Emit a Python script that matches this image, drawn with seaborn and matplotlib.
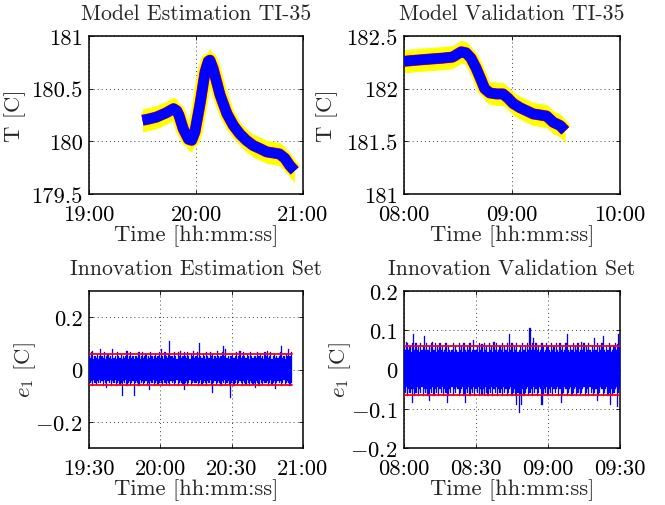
import numpy as np
import pandas as pd
import matplotlib
matplotlib.use("Agg")
import matplotlib.pyplot as plt
import seaborn as sns

# ---------------- data (times in hours of day) ----------------
# Model estimation TI-35: prediction trend
est_time = [19.50, 19.55, 19.63, 19.72, 19.79, 19.82, 19.84, 19.88, 19.93, 19.96,
            19.99, 20.04, 20.085, 20.115, 20.13, 20.16, 20.225, 20.29, 20.35, 20.41,
            20.47, 20.535, 20.60, 20.66, 20.72, 20.78, 20.83, 20.877, 20.922]
est_temp = [180.20, 180.21, 180.23, 180.27, 180.31, 180.29, 180.25, 180.12, 180.02, 180.01,
            180.09, 180.37, 180.66, 180.76, 180.77, 180.69, 180.44, 180.26, 180.15, 180.07,
            180.01, 179.96, 179.93, 179.90, 179.89, 179.88, 179.84, 179.77, 179.72]

# Model validation TI-35
val_time = [8.00, 8.11, 8.23, 8.36, 8.45, 8.53, 8.575, 8.62, 8.67, 8.715,
            8.747, 8.793, 8.855, 8.917, 8.963, 9.01, 9.073, 9.135, 9.197, 9.26,
            9.32, 9.383, 9.446, 9.493]
val_temp = [182.26, 182.27, 182.28, 182.29, 182.30, 182.35, 182.34, 182.29, 182.19, 182.08,
            182.00, 181.96, 181.95, 181.95, 181.91, 181.86, 181.82, 181.79, 181.76, 181.75,
            181.74, 181.68, 181.65, 181.60]
band_half = 0.11   # half width of the yellow confidence band [C]

# Innovations, estimation set: max / min of e1 in each 30 s bin (19:30 .. 20:55:30)
est_hi = [
    .05, .045, .065, .07, .04, .05, .045, .06, .04, .05,
    .08, .05, .045, .065, .04, .05, .06, .045, .05, .04,
    .08, .045, .05, .04, .065, .05, .045, .06, .04, .05,
    .045, .05, .07, .04, .05, .065, .045, .05, .04, .05,
    .05, .045, .065, .04, .05, .065, .045, .05, .06, .04,
    .05, .045, .065, .05, .04, .05, .06, .045, .05, .065,
    .045, .08, .05, .04, .065, .05, .045, .06, .11, .05,
    .05, .045, .065, .05, .04, .065, .05, .07, .045, .05,
    .065, .05, .045, .065, .05, .04, .06, .05, .07, .045,
    .05, .065, .045, .10, .05, .045, .06, .05, .04, .065,
    .05, .045, .065, .05, .06, .04, .05, .045, .07, .05,
    .045, .05, .065, .09, .05, .08, .045, .05, .04, .05,
    .05, .06, .045, .05, .065, .04, .05, .07, .045, .05,
    .065, .05, .045, .06, .05, .04, .065, .05, .045, .05,
    .05, .045, .065, .05, .06, .045, .05, .04, .065, .05,
    .07, .045, .05, .065, .04, .05, .06, .045, .05, .045,
    .05, .065, .09, .045, .05, .04, .06, .05, .08, .05,
    .065, .045]
est_lo = [
    -.04, -.05, -.045, -.062, -.04, -.05, -.06, -.045, -.05, -.04,
    -.05, -.045, -.062, -.04, -.05, -.07, -.045, -.05, -.04, -.062,
    -.045, -.05, -.04, -.062, -.05, -.045, -.06, -.05, -.10, -.045,
    -.05, -.04, -.062, -.05, -.045, -.06, -.05, -.045, -.10, -.05,
    -.045, -.05, -.062, -.04, -.05, -.045, -.06, -.05, -.045, -.062,
    -.05, -.08, -.045, -.05, -.04, -.062, -.05, -.045, -.06, -.05,
    -.045, -.05, -.062, -.04, -.05, -.06, -.045, -.05, -.062, -.045,
    -.05, -.045, -.06, -.05, -.04, -.062, -.05, -.045, -.05, -.06,
    -.08, -.05, -.045, -.062, -.05, -.04, -.06, -.05, -.045, -.05,
    -.05, -.045, -.062, -.05, -.04, -.06, -.05, -.045, -.05, -.062,
    -.045, -.05, -.04, -.062, -.09, -.05, -.045, -.06, -.05, -.045,
    -.05, -.062, -.045, -.05, -.04, -.06, -.05, -.045, -.062, -.11,
    -.05, -.045, -.062, -.05, -.04, -.06, -.05, -.045, -.05, -.062,
    -.045, -.05, -.06, -.04, -.05, -.062, -.045, -.05, -.06, -.05,
    -.07, -.045, -.05, -.062, -.04, -.05, -.06, -.045, -.05, -.05,
    -.045, -.062, -.05, -.04, -.06, -.05, -.045, -.075, -.05, -.045,
    -.05, -.045, -.062, -.05, -.04, -.06, -.05, -.045, -.05, -.062,
    -.05, -.045]
est_start, est_end = 19.5, 19.5 + 85.5 / 60
est_bounds = [0.06, -0.06]

# Innovations, validation set: max / min of e1 in each 30 s bin (08:00 .. 09:30)
val_hi = [
    .06, .05, .07, .068, .05, .06, .045, .068, .09, .05,
    .068, .05, .06, .045, .068, .05, .06, .085, .05, .068,
    .05, .06, .045, .068, .07, .05, .068, .045, .06, .05,
    .068, .05, .06, .045, .05, .068, .045, .06, .05, .045,
    .05, .068, .045, .06, .05, .045, .068, .05, .06, .045,
    .068, .05, .045, .06, .05, .068, .045, .05, .075, .05,
    .05, .06, .045, .068, .05, .065, .045, .068, .05, .06,
    .045, .068, .05, .06, .045, .07, .05, .068, .045, .05,
    .06, .05, .068, .045, .06, .05, .068, .045, .09, .05,
    .068, .045, .06, .05, .068, .045, .05, .06, .045, .068,
    .05, .06, .045, .068, .05, .105, .05, .068, .08, .05,
    .068, .05, .06, .045, .05, .068, .06, .045, .05, .068,
    .06, .05, .045, .068, .05, .06, .045, .068, .05, .045,
    .068, .05, .06, .045, .05, .068, .09, .05, .045, .06,
    .05, .068, .045, .06, .05, .068, .045, .05, .07, .05,
    .068, .045, .06, .05, .068, .05, .045, .06, .05, .08,
    .05, .068, .045, .06, .05, .068, .085, .05, .045, .06,
    .05, .068, .06, .045, .05, .06, .068, .05, .065, .09,
    .06]
val_lo = [
    -.05, -.06, -.045, -.068, -.05, -.06, -.05, -.085, -.05, -.068,
    -.06, -.045, -.068, -.05, -.06, -.045, -.068, -.05, -.06, -.05,
    -.068, -.08, -.05, -.06, -.045, -.068, -.05, -.06, -.045, -.068,
    -.05, -.06, -.045, -.068, -.05, -.06, -.085, -.068, -.05, -.06,
    -.045, -.068, -.05, -.06, -.045, -.05, -.068, -.06, -.05, -.045,
    -.068, -.085, -.05, -.06, -.045, -.068, -.05, -.06, -.045, -.068,
    -.05, -.06, -.045, -.068, -.05, -.065, -.05, -.068, -.045, -.06,
    -.068, -.05, -.06, -.045, -.068, -.05, -.06, -.045, -.068, -.05,
    -.06, -.05, -.068, -.045, -.06, -.05, -.068, -.06, -.05, -.045,
    -.068, -.06, -.05, -.068, -.09, -.06, -.11, -.068, -.09, -.05,
    -.068, -.06, -.05, -.045, -.068, -.06, -.05, -.068, -.045, -.06,
    -.05, -.068, -.06, -.045, -.05, -.09, -.068, -.05, -.06, -.045,
    -.068, -.05, -.06, -.045, -.068, -.05, -.06, -.05, -.045, -.068,
    -.05, -.085, -.068, -.06, -.045, -.05, -.068, -.06, -.05, -.045,
    -.068, -.06, -.05, -.045, -.068, -.06, -.05, -.068, -.06, -.05,
    -.045, -.068, -.06, -.05, -.068, -.045, -.06, -.05, -.068, -.06,
    -.05, -.08, -.068, -.06, -.045, -.05, -.068, -.06, -.05, -.045,
    -.068, -.06, -.09, -.05, -.068, -.06, -.05, -.045, -.095, -.06,
    -.05]
val_start, val_end = 8.0, 9.5
val_bounds = [0.06, -0.064]

# ticks
tl_xticks = [19.0, 20.0, 21.0]
tl_xlabels = ["19:00", "20:00", "21:00"]
tl_yticks = [179.5, 180.0, 180.5, 181.0]
tl_ylabels = ["179.5", "180", "180.5", "181"]
tr_xticks = [8.0, 9.0, 10.0]
tr_xlabels = ["08:00", "09:00", "10:00"]
tr_yticks = [181.0, 181.5, 182.0, 182.5]
tr_ylabels = ["181", "181.5", "182", "182.5"]
bl_xticks = [19.5, 20.0, 20.5, 21.0]
bl_xlabels = ["19:30", "20:00", "20:30", "21:00"]
bl_yticks = [-0.2, 0.0, 0.2]
bl_ylabels = [r"$-0.2$", "0", "0.2"]
br_xticks = [8.0, 8.5, 9.0, 9.5]
br_xlabels = ["08:00", "08:30", "09:00", "09:30"]
br_yticks = [-0.2, -0.1, 0.0, 0.1, 0.2]
br_ylabels = [r"$-0.2$", r"$-0.1$", "0", "0.1", "0.2"]

titles = ["Model Estimation TI-35", "Model Validation TI-35",
          "Innovation Estimation Set", "Innovation Validation Set"]

# ---------------- style ----------------
sns.set_style("white")
plt.rcParams["font.family"] = ["cmr10", "DejaVu Serif"]
plt.rcParams["mathtext.fontset"] = "cm"
plt.rcParams["axes.unicode_minus"] = False
plt.rcParams["axes.formatter.use_mathtext"] = True
FS = 16.3
FS_T = 15.7

fig = plt.figure(figsize=(6.65, 5.06), dpi=100)
W, H = 665.0, 506.0

def box(l, t, r, b):
    return [l / W, 1 - b / H, (r - l) / W, (b - t) / H]

ax_tl = fig.add_axes(box(89, 37, 303, 195))
ax_tr = fig.add_axes(box(404, 37, 620, 195))
ax_bl = fig.add_axes(box(89, 292, 303, 449))
ax_br = fig.add_axes(box(404, 292, 620, 449))

def style(ax, xt, xl, yt, yl, xlim, ylim, title, ylabel, ylab_x):
    ax.set_xlim(*xlim)
    ax.set_ylim(*ylim)
    ax.set_xticks(xt)
    ax.set_xticklabels(xl, fontsize=FS)
    ax.set_yticks(yt)
    ax.set_yticklabels(yl, fontsize=FS)
    ax.tick_params(direction="in", length=3, width=0.6, colors="black",
                   top=True, right=True, bottom=True, left=True)
    ax.tick_params(axis="x", pad=7.5)
    ax.tick_params(axis="y", pad=4.5)
    ax.grid(True, linestyle=(0, (1, 3.2)), color="black", linewidth=0.7, alpha=0.75)
    for s in ax.spines.values():
        s.set_linewidth(1.1)
        s.set_color("black")
    ax.set_title(title, fontsize=FS_T, pad=12)
    ax.set_xlabel("Time [hh:mm:ss]", fontsize=FS, labelpad=0)
    ax.set_ylabel(ylabel, fontsize=FS)
    ax.yaxis.set_label_coords(ylab_x, 0.5)

# ---------------- top panels ----------------
for ax, t, y in [(ax_tl, est_time, est_temp), (ax_tr, val_time, val_temp)]:
    df = pd.DataFrame({"t": t, "y": y})
    ax.fill_between(df["t"], df["y"] - band_half, df["y"] + band_half,
                    color="yellow", linewidth=0, zorder=2)
    sns.lineplot(data=df, x="t", y="y", ax=ax, color="yellow", linewidth=11,
                 estimator=None, sort=False, zorder=2, solid_capstyle="butt")
    sns.lineplot(data=df, x="t", y="y", ax=ax, color="red", linewidth=8.0,
                 estimator=None, sort=False, zorder=3, solid_capstyle="butt")
    sns.lineplot(data=df, x="t", y="y", ax=ax, color="blue", linewidth=7.4,
                 estimator=None, sort=False, zorder=4, solid_capstyle="butt")

style(ax_tl, tl_xticks, tl_xlabels, tl_yticks, tl_ylabels, (19.0, 21.0), (179.5, 181.0),
      titles[0], "T [C]", -0.295)
style(ax_tr, tr_xticks, tr_xlabels, tr_yticks, tr_ylabels, (8.0, 10.0), (181.0, 182.5),
      titles[1], "T [C]", -0.305)

# ---------------- innovation panels ----------------
for ax, hi, lo, t0, t1, bnd in [(ax_bl, est_hi, est_lo, est_start, est_end, est_bounds),
                                (ax_br, val_hi, val_lo, val_start, val_end, val_bounds)]:
    t = np.linspace(t0, t1, len(hi))
    ax.fill_between(t, lo, hi, step="mid", color="blue", linewidth=0.2,
                    edgecolor="blue", zorder=3)
    for b in bnd:
        bd = pd.DataFrame({"t": [t0, t1], "e": [b, b]})
        sns.lineplot(data=bd, x="t", y="e", ax=ax, color="red", linewidth=1.3,
                     estimator=None, zorder=4)

style(ax_bl, bl_xticks, bl_xlabels, bl_yticks, bl_ylabels, (19.5, 21.0), (-0.3, 0.3),
      titles[2], r"$e_1$ [C]", -0.24)
style(ax_br, br_xticks, br_xlabels, br_yticks, br_ylabels, (8.0, 9.5), (-0.2, 0.2),
      titles[3], r"$e_1$ [C]", -0.235)

fig.savefig("out.png", dpi=100)
